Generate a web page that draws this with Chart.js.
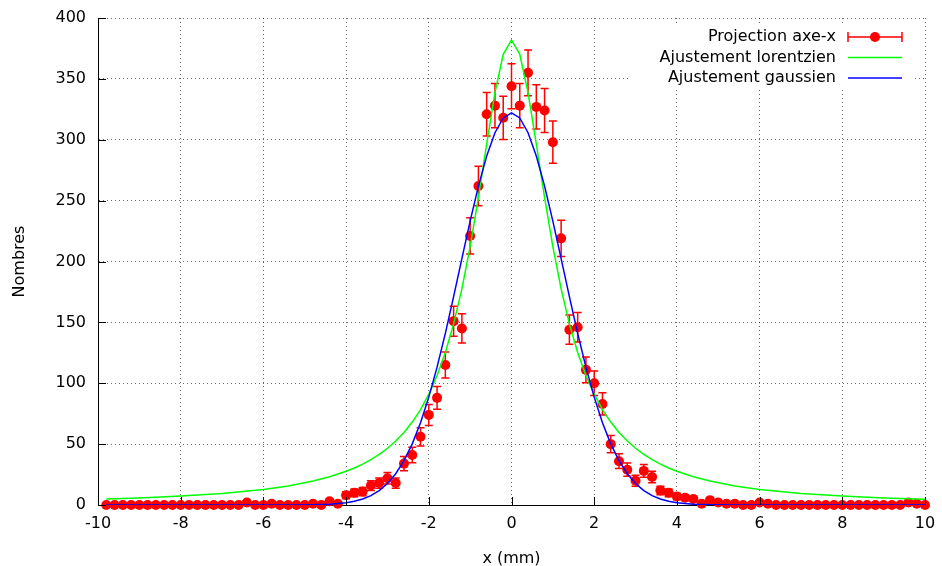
<!DOCTYPE html>
<html>
<head>
<meta charset="utf-8">
<title>Projection axe-x</title>
<script src="https://cdn.jsdelivr.net/npm/chart.js@4.4.1/dist/chart.umd.min.js"></script>
<style>
  body { margin: 0; background: #fff; }
  #chart { display: block; }
</style>
</head>
<body>
<canvas id="chart" width="942" height="566"></canvas>
<script>
(function () {
    "use strict";

    // Projection axe-x : position (mm), nombres, erreurs
    var posX = [
        -9.8, -9.6, -9.4, -9.2, -9.0, -8.8, -8.6, -8.4, -8.2, -8.0,
        -7.8, -7.6, -7.4, -7.2, -7.0, -6.8, -6.6, -6.4, -6.2, -6.0,
        -5.8, -5.6, -5.4, -5.2, -5.0, -4.8, -4.6, -4.4, -4.2, -4.0,
        -3.8, -3.6, -3.4, -3.2, -3.0, -2.8, -2.6, -2.4, -2.2, -2.0,
        -1.8, -1.6, -1.4, -1.2, -1.0, -0.8, -0.6, -0.4, -0.2, 0.0,
        0.2, 0.4, 0.6, 0.8, 1.0, 1.2, 1.4, 1.6, 1.8, 2.0,
        2.2, 2.4, 2.6, 2.8, 3.0, 3.2, 3.4, 3.6, 3.8, 4.0,
        4.2, 4.4, 4.6, 4.8, 5.0, 5.2, 5.4, 5.6, 5.8, 6.0,
        6.2, 6.4, 6.6, 6.8, 7.0, 7.2, 7.4, 7.6, 7.8, 8.0,
        8.2, 8.4, 8.6, 8.8, 9.0, 9.2, 9.4, 9.6, 9.8, 10.0
    ];
    var nombres = [
        0, 0, 0, 0, 0, 0, 0, 0, 0, 0,
        0, 0, 0, 0, 0, 0, 0, 2, 0, 0,
        1, 0, 0, 0, 0, 1, 0, 3, 1, 8,
        10, 11, 16, 18, 22, 18, 34, 41, 56, 74,
        88, 115, 151, 145, 221, 262, 321, 328, 318, 344,
        328, 355, 327, 324, 298, 219, 144, 146, 111, 100,
        83, 50, 36, 29, 20, 28, 23, 12, 10, 7,
        6, 5, 1, 4, 2, 1, 1, 0, 0, 2,
        1, 0, 0, 0, 0, 0, 0, 0, 0, 0,
        0, 0, 0, 0, 0, 0, 0, 2, 1, 0
    ];
    var erreurs = [
        0, 0, 0, 0, 0, 0, 0, 0, 0, 0,
        0, 0, 0, 0, 0, 0, 0, 1.4, 0, 0,
        1, 0, 0, 0, 0, 1, 0, 1.7, 1, 2.8,
        3.2, 3.3, 4, 4.2, 4.7, 4.2, 5.8, 6.4, 7.5, 8.6,
        9.4, 10.7, 12.3, 12, 14.9, 16.2, 17.9, 18.1, 17.8, 18.5,
        18.1, 18.8, 18.1, 18, 17.3, 14.8, 12, 12.1, 10.5, 10,
        9.1, 7.1, 6, 5.4, 4.5, 5.3, 4.8, 3.5, 3.2, 2.6,
        2.4, 2.2, 1, 2, 1.4, 1, 1, 0, 0, 1.4,
        1, 0, 0, 0, 0, 0, 0, 0, 0, 0,
        0, 0, 0, 0, 0, 0, 0, 1.4, 1, 0
    ];

    // Ajustements
    var fitX = [
        -9.8, -9, -8, -7, -6, -5.4, -4.8, -4.4, -4.0,
        -3.8, -3.6, -3.4, -3.2, -3.0, -2.8, -2.6, -2.4, -2.2, -2.0,
        -1.8, -1.6, -1.4, -1.2, -1.0, -0.8, -0.6, -0.4, -0.2, 0,
        0.2, 0.4, 0.6, 0.8, 1.0, 1.2, 1.4, 1.6, 1.8, 2.0,
        2.2, 2.4, 2.6, 2.8, 3.0, 3.2, 3.4, 3.6, 3.8,
        4.0, 4.4, 4.8, 5.4, 6, 7, 8, 9, 10
    ];
    var lorentz = [
        4.9, 5.8, 7.3, 9.5, 12.8, 15.7, 19.7, 23.2, 27.7,
        30.4, 33.6, 37.3, 41.6, 46.6, 52.5, 59.6, 68.1, 78.4, 91.0,
        106.4, 125.3, 148.8, 177.5, 212.2, 252.6, 296.6, 338.7, 370.2, 382,
        370.2, 338.7, 296.6, 252.6, 212.2, 177.5, 148.8, 125.3, 106.4, 91.0,
        78.4, 68.1, 59.6, 52.5, 46.6, 41.6, 37.3, 33.6, 30.4,
        27.7, 23.2, 19.7, 15.7, 12.8, 9.5, 7.3, 5.8, 4.7
    ];
    var gauss = [
        0, 0, 0, 0, 0, 0, 0.2, 0.6, 1.8,
        3.1, 4.9, 7.7, 11.8, 17.7, 25.7, 36.4, 50.2, 67.6, 88.6,
        113.2, 141.0, 171.1, 202.4, 233.2, 261.9, 286.7, 305.8, 317.9, 322,
        317.9, 305.8, 286.7, 261.9, 233.2, 202.4, 171.1, 141.0, 113.2, 88.6,
        67.6, 50.2, 36.4, 25.7, 17.7, 11.8, 7.7, 4.9, 3.1,
        1.8, 0.6, 0.2, 0, 0, 0, 0, 0, 0
    ];

    var labels = ["Projection axe-x", "Ajustement lorentzien", "Ajustement gaussien"];
    var rouge = "#ff0000", vert = "#00ff00", bleu = "#0000ff";
    var police = '"DejaVu Sans", sans-serif';

    function points(xs, ys) {
        return xs.map(function (x, i) { return {x: x, y: ys[i]}; });
    }

    // Barres d'erreur, sous les points
    var errorBars = {
        id: "errorBars",
        beforeDatasetsDraw: function (chart) {
            var ctx = chart.ctx, sx = chart.scales.x, sy = chart.scales.y;
            ctx.save();
            ctx.strokeStyle = rouge;
            ctx.lineWidth = 1.5;
            for (var i = 0; i < posX.length; i++) {
                if (!erreurs[i]) continue;
                var px = sx.getPixelForValue(posX[i]);
                var y1 = sy.getPixelForValue(nombres[i] - erreurs[i]);
                var y2 = sy.getPixelForValue(nombres[i] + erreurs[i]);
                ctx.beginPath();
                ctx.moveTo(px, y1); ctx.lineTo(px, y2);
                ctx.moveTo(px - 4, y1); ctx.lineTo(px + 4, y1);
                ctx.moveTo(px - 4, y2); ctx.lineTo(px + 4, y2);
                ctx.stroke();
            }
            ctx.restore();
        }
    };

    // Graduations vers l'intérieur + légende façon gnuplot
    var cadre = {
        id: "cadre",
        afterDraw: function (chart) {
            var ctx = chart.ctx, area = chart.chartArea;
            var sx = chart.scales.x, sy = chart.scales.y;
            ctx.save();
            ctx.strokeStyle = "#000";
            ctx.lineWidth = 1;
            ctx.beginPath();
            sy.ticks.forEach(function (t) {
                var py = Math.round(sy.getPixelForValue(t.value)) + 0.5;
                ctx.moveTo(area.left, py); ctx.lineTo(area.left + 8, py);
            });
            sx.ticks.forEach(function (t) {
                var px = Math.round(sx.getPixelForValue(t.value)) + 0.5;
                ctx.moveTo(px, area.bottom); ctx.lineTo(px, area.bottom - 8);
            });
            ctx.stroke();

            // légende
            var textRight = area.right - 89, s1 = area.right - 77, s2 = area.right - 23;
            ctx.fillStyle = "#fff";
            ctx.fillRect(area.right - 295, area.top + 8, 282, 64);
            ctx.font = "16px " + police;
            ctx.textAlign = "right";
            ctx.textBaseline = "middle";
            ctx.fillStyle = "#000";
            var couleurs = [rouge, vert, bleu];
            for (var i = 0; i < labels.length; i++) {
                var ly = area.top + 19 + i * 20.5;
                ctx.fillText(labels[i], textRight, ly);
                ctx.strokeStyle = couleurs[i];
                ctx.lineWidth = 1.5;
                ctx.beginPath();
                ctx.moveTo(s1, ly); ctx.lineTo(s2, ly);
                if (i === 0) {
                    ctx.moveTo(s1, ly - 5); ctx.lineTo(s1, ly + 5);
                    ctx.moveTo(s2, ly - 5); ctx.lineTo(s2, ly + 5);
                }
                ctx.stroke();
                if (i === 0) {
                    ctx.fillStyle = rouge;
                    ctx.beginPath();
                    ctx.arc((s1 + s2) / 2, ly, 5, 0, Math.PI * 2);
                    ctx.fill();
                    ctx.fillStyle = "#000";
                }
            }
            ctx.restore();
        }
    };

    var grille = {
        color: "rgba(0,0,0,0.6)",
        lineWidth: 1,
        drawTicks: false
    };
    var bord = {display: true, color: "#000", width: 1, dash: [1, 3]};

    Chart.defaults.font.family = police;
    Chart.defaults.font.size = 16;
    Chart.defaults.color = "#000";

    var ctx = document.getElementById("chart").getContext("2d");
    var myChart = new Chart(ctx, {
        type: "scatter",
        data: {
            datasets: [{
                label: labels[0],
                data: points(posX, nombres),
                backgroundColor: rouge,
                borderWidth: 0,
                pointRadius: 5,
                showLine: false,
                clip: false,
                order: 3
            }, {
                label: labels[1],
                data: points(fitX, lorentz),
                borderColor: vert,
                borderWidth: 1.5,
                pointRadius: 0,
                showLine: true,
                tension: 0,
                order: 2
            }, {
                label: labels[2],
                data: points(fitX, gauss),
                borderColor: bleu,
                borderWidth: 1.5,
                pointRadius: 0,
                showLine: true,
                tension: 0,
                order: 1
            }]
        },
        options: {
            responsive: false,
            animation: false,
            layout: {padding: {top: 18, right: 17, left: 0, bottom: 0}},
            plugins: {
                legend: {display: false},
                tooltip: {enabled: false}
            },
            scales: {
                x: {
                    type: "linear",
                    min: -10,
                    max: 10,
                    ticks: {stepSize: 2, padding: 9},
                    grid: grille,
                    border: bord,
                    title: {display: true, text: "x (mm)", font: {lineHeight: 1.1}, padding: {top: 0, bottom: -2}},
                    afterFit: function (s) {
                        s.height = 61;
                        s.paddingLeft = 0;
                        s.paddingRight = 0;
                    }
                },
                y: {
                    min: 0,
                    max: 400,
                    ticks: {stepSize: 50, padding: 12},
                    grid: grille,
                    border: bord,
                    title: {display: true, text: "Nombres", padding: {top: 10, bottom: 0}},
                    afterFit: function (s) {
                        s.width = 98;
                        s.paddingTop = 0;
                        s.paddingBottom = 0;
                    }
                }
            }
        },
        plugins: [errorBars, cadre]
    });
})();
</script>
</body>
</html>
